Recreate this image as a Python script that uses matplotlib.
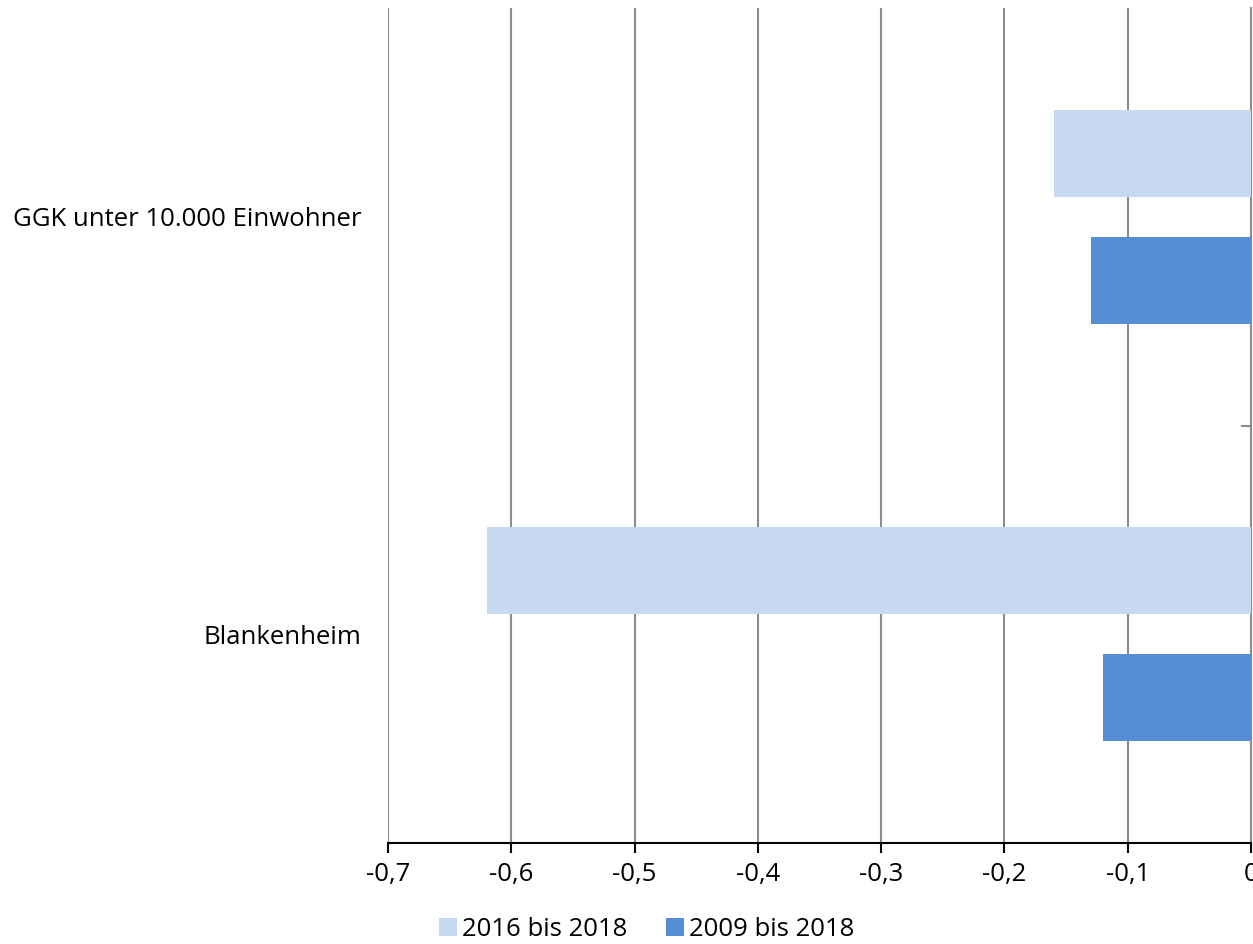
import matplotlib
matplotlib.use("Agg")
import matplotlib.pyplot as plt
from matplotlib.ticker import FuncFormatter, FixedLocator

plt.rcParams["font.family"] = ["Open Sans", "DejaVu Sans"]

# ---------------- DATA ----------------
categories = ["Blankenheim", "GGK unter 10.000 Einwohner"]
series_names = ["2016 bis 2018", "2009 bis 2018"]
vals_2016 = [-0.62, -0.16]
vals_2009 = [-0.12, -0.13]
x_ticks = [-0.7, -0.6, -0.5, -0.4, -0.3, -0.2, -0.1, 0.0]

LIGHT = "#C6D9F1"
DARK = "#558ED5"
GRID = "#8C8C8C"
FS = 18.5

fig = plt.figure(figsize=(12.53, 9.44), dpi=100)
ax = fig.add_axes([388 / 1253, 1 - 843 / 944, (1251 - 388) / 1253, (843 - 8) / 944])

pos = list(range(len(categories)))
h = 0.208
off = 0.152
ax.barh([p + off for p in pos], vals_2016, height=h, color=LIGHT, label=series_names[0], zorder=3)
ax.barh([p - off for p in pos], vals_2009, height=h, color=DARK, label=series_names[1], zorder=3)

ax.set_xlim(-0.7, 0)
ax.set_ylim(-0.5, 1.5)

# x axis
ax.xaxis.set_major_locator(FixedLocator(x_ticks))
ax.xaxis.set_major_formatter(FuncFormatter(
    lambda v, p: "0" if abs(v) < 1e-9 else f"{v:.1f}".replace(".", ",")))
ax.tick_params(axis="x", direction="out", length=7, width=1.5, color="black",
               labelsize=FS, pad=7)
ax.grid(axis="x", color=GRID, linewidth=1.5, zorder=0)

# y axis
ax.set_yticks(pos)
ax.set_yticklabels(categories)
ax.tick_params(axis="y", which="major", length=0, labelsize=FS, pad=19)
ax.yaxis.set_minor_locator(FixedLocator([0.5]))
ax.tick_params(axis="y", which="minor", left=False, right=True, direction="in",
               length=7, width=1.5, color=GRID)

for s in ["top", "left"]:
    ax.spines[s].set_visible(False)
ax.spines["right"].set_color(GRID)
ax.spines["right"].set_linewidth(1.5)
ax.spines["bottom"].set_color("black")
ax.spines["bottom"].set_linewidth(1.5)
ax.spines["bottom"].set_zorder(4)

fig.legend(loc="lower center", bbox_to_anchor=(0.516, -0.022), ncol=2, frameon=False,
           fontsize=FS, handlelength=0.7, handleheight=0.7, handletextpad=0.2,
           columnspacing=1.5)

fig.savefig("out.png", dpi=100)
